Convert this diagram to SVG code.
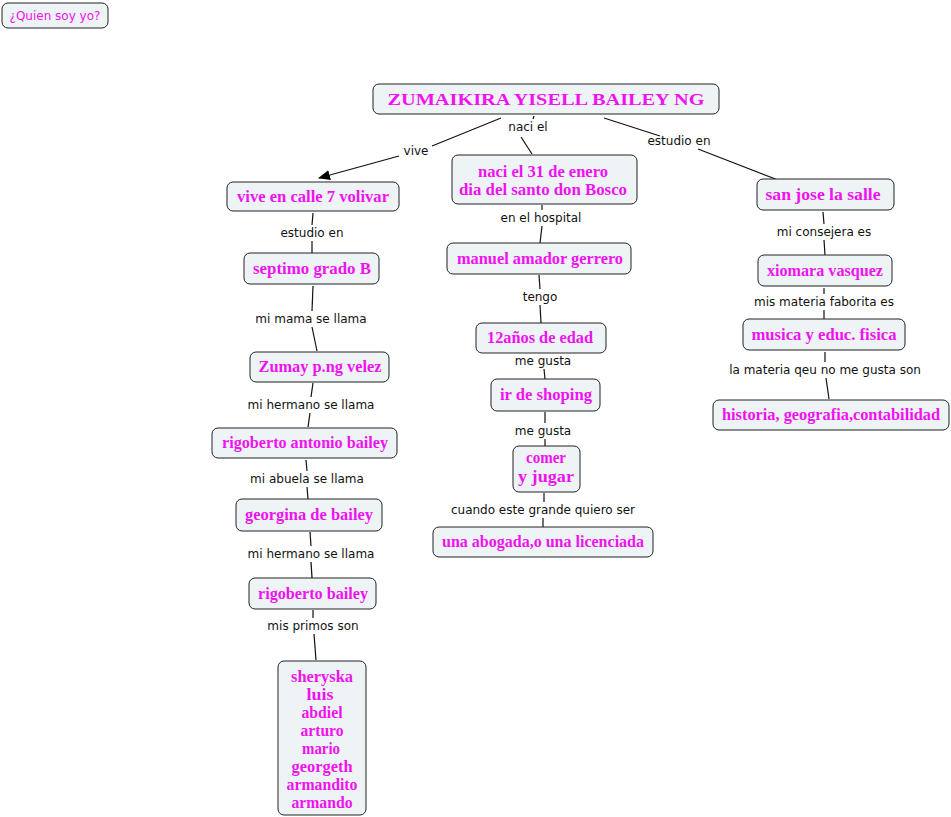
<svg xmlns="http://www.w3.org/2000/svg" width="951" height="817" viewBox="0 0 951 817">
<defs>
<style>
.box{fill:#eef3f6;stroke:#222;stroke-width:1}
.nt{font-family:"Liberation Serif","DejaVu Serif",serif;font-weight:bold;font-size:16px;fill:#f012f0;text-anchor:middle}
.lb{font-family:"DejaVu Sans","Liberation Sans",sans-serif;font-size:12px;fill:#111;text-anchor:middle}
.cn line{stroke:#111;stroke-width:1.2}
</style>
<marker id="arr" viewBox="0 0 12 10" refX="11" refY="5" markerWidth="12" markerHeight="10" markerUnits="userSpaceOnUse" orient="auto">
<path d="M0,0 L12,5 L0,10 z" fill="#000"/>
</marker>
</defs>
<rect width="951" height="817" fill="#fff"/>

<g id="connectors" class="cn">
<line x1="501" y1="118" x2="432" y2="146"/>
<line x1="399" y1="156" x2="319" y2="178" marker-end="url(#arr)"/>
<line x1="534" y1="116" x2="533" y2="119"/>
<line x1="521" y1="137" x2="532" y2="154"/>
<line x1="604" y1="118" x2="660" y2="136"/>
<line x1="698" y1="149" x2="778" y2="180"/>
<line x1="313" y1="213" x2="312" y2="225"/>
<line x1="312" y1="241" x2="312" y2="253"/>
<line x1="313" y1="286" x2="312" y2="311"/>
<line x1="312" y1="327" x2="317" y2="351"/>
<line x1="313" y1="383" x2="311" y2="397"/>
<line x1="310" y1="413" x2="308" y2="427"/>
<line x1="306" y1="460" x2="307" y2="471"/>
<line x1="307" y1="487" x2="308" y2="499"/>
<line x1="310" y1="532" x2="311" y2="546"/>
<line x1="311" y1="562" x2="312" y2="578"/>
<line x1="313" y1="610" x2="313" y2="618"/>
<line x1="314" y1="634" x2="316" y2="660"/>
<line x1="542" y1="205" x2="542" y2="210"/>
<line x1="542" y1="226" x2="540" y2="243"/>
<line x1="539" y1="275" x2="540" y2="289"/>
<line x1="540" y1="305" x2="541" y2="323"/>
<line x1="544" y1="369" x2="545" y2="379"/>
<line x1="545" y1="412" x2="545" y2="423"/>
<line x1="545" y1="439" x2="545" y2="446"/>
<line x1="544" y1="493" x2="544" y2="502"/>
<line x1="543" y1="518" x2="543" y2="527"/>
<line x1="823" y1="212" x2="824" y2="224"/>
<line x1="824" y1="240" x2="825" y2="255"/>
<line x1="824" y1="288" x2="824" y2="294"/>
<line x1="824" y1="310" x2="824" y2="319"/>
<line x1="825" y1="352" x2="825" y2="362"/>
<line x1="826" y1="378" x2="829" y2="399"/>
</g>

<g id="labels">
<text class="lb" x="416" y="155">vive</text>
<text class="lb" x="528" y="131">naci el</text>
<text class="lb" x="679" y="145">estudio en</text>
<text class="lb" x="312" y="237">estudio en</text>
<text class="lb" x="311" y="323">mi mama se llama</text>
<text class="lb" x="311" y="409">mi hermano se llama</text>
<text class="lb" x="307" y="483">mi abuela se llama</text>
<text class="lb" x="311" y="558">mi hermano se llama</text>
<text class="lb" x="313" y="630">mis primos son</text>
<text class="lb" x="541" y="222">en el hospital</text>
<text class="lb" x="540" y="301">tengo</text>
<text class="lb" x="543" y="365">me gusta</text>
<text class="lb" x="543" y="435">me gusta</text>
<text class="lb" x="543" y="514">cuando este grande quiero ser</text>
<text class="lb" x="824" y="236">mi consejera es</text>
<text class="lb" x="824" y="306">mis materia faborita es</text>
<text class="lb" x="825" y="374">la materia qeu no me gusta son</text>
</g>

<g id="quien">
<rect class="box" x="2" y="3" width="106" height="25" rx="6"/>
<text x="55" y="20" font-family="DejaVu Sans, sans-serif" font-size="12" fill="#f012f0" text-anchor="middle">¿Quien soy yo?</text>
</g>
<g id="root">
<rect class="box" x="373" y="84" width="346" height="30" rx="6"/>
<text class="nt" x="546" y="105" font-size="19" textLength="317" lengthAdjust="spacingAndGlyphs">ZUMAIKIRA YISELL BAILEY NG</text>
</g>
<g id="vive-node">
<rect class="box" x="227" y="182" width="172" height="29" rx="6"/>
<text class="nt" x="313" y="202" textLength="152" lengthAdjust="spacingAndGlyphs">vive en calle 7 volivar</text>
</g>
<g id="naci-node">
<rect class="box" x="452" y="155" width="185" height="49" rx="6"/>
<text class="nt" x="543" y="177" textLength="130" lengthAdjust="spacingAndGlyphs">naci el 31 de enero</text>
<text class="nt" x="543" y="195" textLength="168" lengthAdjust="spacingAndGlyphs">dia del santo don Bosco</text>
</g>
<g id="sanjose">
<rect class="box" x="757" y="179" width="137" height="31" rx="6"/>
<text class="nt" x="823" y="200" textLength="115" lengthAdjust="spacingAndGlyphs">san jose la salle</text>
</g>
<g id="septimo">
<rect class="box" x="244" y="253" width="135" height="31" rx="6"/>
<text class="nt" x="312" y="274" textLength="118" lengthAdjust="spacingAndGlyphs">septimo grado B</text>
</g>
<g id="manuel">
<rect class="box" x="447" y="243" width="184" height="31" rx="6"/>
<text class="nt" x="540" y="264" textLength="166" lengthAdjust="spacingAndGlyphs">manuel amador gerrero</text>
</g>
<g id="xiomara">
<rect class="box" x="758" y="255" width="134" height="31" rx="6"/>
<text class="nt" x="825" y="276" textLength="116" lengthAdjust="spacingAndGlyphs">xiomara vasquez</text>
</g>
<g id="edad">
<rect class="box" x="476" y="323" width="130" height="30" rx="6"/>
<text class="nt" x="540" y="343" textLength="106" lengthAdjust="spacingAndGlyphs">12años de edad</text>
</g>
<g id="musica">
<rect class="box" x="743" y="319" width="162" height="31" rx="6"/>
<text class="nt" x="824" y="340" textLength="145" lengthAdjust="spacingAndGlyphs">musica y educ. fisica</text>
</g>
<g id="zumay">
<rect class="box" x="250" y="352" width="139" height="30" rx="6"/>
<text class="nt" x="320" y="372" textLength="123" lengthAdjust="spacingAndGlyphs">Zumay p.ng velez</text>
</g>
<g id="shoping">
<rect class="box" x="491" y="379" width="109" height="32" rx="6"/>
<text class="nt" x="546" y="400" textLength="92" lengthAdjust="spacingAndGlyphs">ir de shoping</text>
</g>
<g id="historia">
<rect class="box" x="713" y="400" width="236" height="30" rx="6"/>
<text class="nt" x="831" y="420" textLength="218" lengthAdjust="spacingAndGlyphs">historia, geografia,contabilidad</text>
</g>
<g id="rigoberto-antonio">
<rect class="box" x="212" y="428" width="185" height="30" rx="6"/>
<text class="nt" x="305" y="448" textLength="166" lengthAdjust="spacingAndGlyphs">rigoberto antonio bailey</text>
</g>
<g id="comer">
<rect class="box" x="513" y="446" width="67" height="46" rx="6"/>
<text class="nt" x="546" y="463" textLength="40" lengthAdjust="spacingAndGlyphs">comer</text>
<text class="nt" x="546" y="482" textLength="56" lengthAdjust="spacingAndGlyphs">y jugar</text>
</g>
<g id="georgina">
<rect class="box" x="236" y="499" width="146" height="32" rx="6"/>
<text class="nt" x="309" y="520" textLength="128" lengthAdjust="spacingAndGlyphs">georgina de bailey</text>
</g>
<g id="abogada">
<rect class="box" x="433" y="527" width="220" height="30" rx="6"/>
<text class="nt" x="543" y="547" textLength="202" lengthAdjust="spacingAndGlyphs">una abogada,o una licenciada</text>
</g>
<g id="rigoberto-bailey">
<rect class="box" x="249" y="578" width="127" height="31" rx="6"/>
<text class="nt" x="313" y="599" textLength="110" lengthAdjust="spacingAndGlyphs">rigoberto bailey</text>
</g>
<g id="primos">
<rect class="box" x="278" y="661" width="88" height="154" rx="6"/>
<text class="nt" x="322" y="682" textLength="62" lengthAdjust="spacingAndGlyphs">sheryska</text>
<text class="nt" x="320" y="700" textLength="27" lengthAdjust="spacingAndGlyphs">luis</text>
<text class="nt" x="322" y="718" textLength="41" lengthAdjust="spacingAndGlyphs">abdiel</text>
<text class="nt" x="322" y="736" textLength="43" lengthAdjust="spacingAndGlyphs">arturo</text>
<text class="nt" x="321" y="754" textLength="38" lengthAdjust="spacingAndGlyphs">mario</text>
<text class="nt" x="322" y="772" textLength="61" lengthAdjust="spacingAndGlyphs">georgeth</text>
<text class="nt" x="322" y="790" textLength="71" lengthAdjust="spacingAndGlyphs">armandito</text>
<text class="nt" x="322" y="808" textLength="61" lengthAdjust="spacingAndGlyphs">armando</text>
</g>
</svg>
